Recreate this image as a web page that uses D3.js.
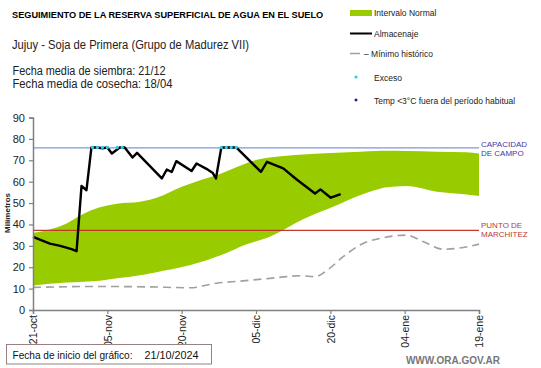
<!DOCTYPE html>
<html><head><meta charset="utf-8">
<script src="https://cdn.jsdelivr.net/npm/d3@7"></script>
<style>
body{margin:0;background:#fff;}
text{font-family:"Liberation Sans",Arial,sans-serif;}
</style></head>
<body><svg id="c" width="541" height="368"></svg>
<script>
// ---- data (day offset from start date) ----
const startDate = "2024-10-21";
const tickDays = [0, 15, 30, 45, 60, 75, 90];
const tickLabels = ["21-oct", "05-nov", "20-nov", "05-dic", "20-dic", "04-ene", "19-ene"];
const yTicks = [0,10,20,30,40,50,60,70,80,90];

const bandDays  = [0, 6.8, 10.2, 13.5, 16.9, 21.6, 23.6, 26.3, 29.7, 30.3, 33.7, 37, 40.4, 41.8, 44.4, 47.8, 54.5, 61.3, 66, 69.3, 71, 75.4, 81.5, 87.5, 90];
const bandUpper = [36, 40.5, 45, 48, 49.7, 50.6, 51.5, 53.7, 57.3, 57.8, 60.7, 63, 66.2, 67.4, 69.8, 71.3, 72.7, 73.5, 74, 74.3, 74.4, 74.3, 74, 73.8, 73.2];
const bandLower = [11.4, 12.8, 13.2, 13.7, 14.8, 16.3, 17.1, 18.4, 19.9, 20.2, 22.3, 24.9, 28, 29.6, 31.7, 34.3, 42.4, 49, 53.7, 56.2, 57.3, 58, 55.3, 54, 53.3];

const almDays = [0, 3.4, 5.5, 7.8, 8.8, 9.8, 10.8, 11.8, 13, 14, 15, 15.9, 17.5, 18.5, 20.1, 21, 26, 27, 28, 28.9, 32, 33, 35, 36.3, 36.9, 38, 39, 40, 41, 46, 47.2, 50.5, 53.2, 56.9, 58, 60.1, 62.1];
const almVals = [34.2, 31, 30, 28.5, 27.5, 58, 56, 76, 76, 75.6, 76, 73.2, 76, 76, 71.3, 73.5, 61.5, 65.7, 64.5, 69.6, 65, 68.5, 66, 64, 61.5, 76, 76, 76, 76, 64.6, 69.3, 66.2, 61, 54.5, 56.4, 52.5, 54.2];

const minDays = [0, 13.5, 23.6, 31.7, 37, 41.8, 47.8, 51.2, 53.9, 56.9, 59.6, 62.6, 66, 70.7, 75.4, 78.8, 82.8, 85.5, 90];
const minVals = [10.6, 11, 10.8, 10.4, 12.5, 13.5, 14.8, 15.6, 16, 15.6, 19, 24.9, 30.4, 33.8, 35, 31.9, 28.4, 28.8, 30.8];

const excesoDays = [12, 13, 14, 15, 17, 18, 38, 39, 40, 41];
const excesoVals = [76, 76, 76, 76, 76, 76, 76, 76, 76, 76];

const capacidadCampo = 75.8;
const puntoMarchitez = 37.2;

// ---- drawing ----
const svg = d3.select("#c");
const t0 = d3.timeParse("%Y-%m-%d")(startDate);
const dt = d => d3.timeHour.offset(t0, Math.round(d * 24));
const x = d3.scaleTime().domain([dt(0), dt(90)]).range([33, 479]);
const y = d3.scaleLinear().domain([0, 90]).range([310, 117.5]);

// band
const band = bandDays.map((d, i) => ({d, lo: bandLower[i], hi: bandUpper[i]}));
svg.append("path").datum(band)
  .attr("d", d3.area().x(p => x(dt(p.d))).y0(p => y(p.lo)).y1(p => y(p.hi)).curve(d3.curveMonotoneX))
  .attr("fill", "#99cc00");

// reference lines
svg.append("line").attr("x1", x(dt(0))).attr("x2", x(dt(90)))
  .attr("y1", y(capacidadCampo)).attr("y2", y(capacidadCampo))
  .attr("stroke", "#7b9ad6").attr("stroke-width", 1.2);
svg.append("line").attr("x1", x(dt(0))).attr("x2", x(dt(90)))
  .attr("y1", y(puntoMarchitez)).attr("y2", y(puntoMarchitez))
  .attr("stroke", "#c0392b").attr("stroke-width", 1.2);

// minimo historico
svg.append("path").datum(minDays.map((d, i) => [d, minVals[i]]))
  .attr("d", d3.line().x(p => x(dt(p[0]))).y(p => y(p[1])).curve(d3.curveMonotoneX))
  .attr("fill", "none").attr("stroke", "#a0a0a0").attr("stroke-width", 1.6)
  .attr("stroke-dasharray", "8,5");

// almacenaje
svg.append("path").datum(almDays.map((d, i) => [d, almVals[i]]))
  .attr("d", d3.line().x(p => x(dt(p[0]))).y(p => y(p[1])))
  .attr("fill", "none").attr("stroke", "#000").attr("stroke-width", 2.4)
  .attr("stroke-linejoin", "round");

// exceso
svg.selectAll(".exc").data(excesoDays.map((d, i) => [d, excesoVals[i]])).enter()
  .append("circle").attr("cx", p => x(dt(p[0]))).attr("cy", p => y(p[1]))
  .attr("r", 1.6).attr("fill", "#33ccee");

// axes
const yAx = svg.append("g").attr("transform", "translate(33,0)")
  .call(d3.axisLeft(y).tickValues(yTicks).tickSize(4).tickPadding(4));
const xAx = svg.append("g").attr("transform", "translate(0,310)")
  .call(d3.axisBottom(x).tickValues(tickDays.map(dt)).tickSize(4)
    .tickFormat((d, i) => tickLabels[i]));
[yAx, xAx].forEach(g => {
  g.select(".domain").attr("stroke", "#808080").attr("stroke-width", 1.5);
  g.selectAll(".tick line").attr("stroke", "#808080").attr("stroke-width", 1.2);
  g.selectAll("text").attr("font-size", 11).attr("fill", "#222")
    .attr("font-family", "Liberation Sans, Arial, sans-serif");
});
xAx.selectAll(".tick text").attr("transform", "rotate(-90)").attr("font-size", 10.5)
  .attr("text-anchor", "end").attr("x", -5).attr("y", 0).attr("dy", "0.35em");

svg.append("text").attr("transform", "translate(10,213) rotate(-90)")
  .attr("text-anchor", "middle").attr("font-size", 8).attr("font-weight", "bold")
  .attr("fill", "#222").text("Milímetros");

// right labels
const rl = (txt, yy, col) => svg.append("text").attr("x", 481).attr("y", yy)
  .attr("font-size", 8).attr("fill", col).text(txt);
rl("CAPACIDAD", 147, "#3a3aa8"); rl("DE  CAMPO", 156, "#3a3aa8");
rl("PUNTO  DE", 228, "#c0392b"); rl("MARCHITEZ", 237, "#c0392b");

// titles
svg.append("text").attr("x", 12).attr("y", 18).attr("font-size", 9.2).attr("font-weight", "bold")
  .attr("fill", "#000").text("SEGUIMIENTO DE LA RESERVA  SUPERFICIAL DE AGUA EN EL SUELO");
svg.append("text").attr("x", 12).attr("y", 49).attr("font-size", 12.3).attr("fill", "#222")
  .attr("textLength", 237).attr("lengthAdjust", "spacingAndGlyphs")
  .text("Jujuy - Soja de Primera (Grupo de Madurez VII)");
svg.append("text").attr("x", 12.5).attr("y", 75).attr("font-size", 12.3).attr("fill", "#222")
  .attr("textLength", 153).attr("lengthAdjust", "spacingAndGlyphs")
  .text("Fecha media de siembra: 21/12");
svg.append("text").attr("x", 12.5).attr("y", 88).attr("font-size", 12.3).attr("fill", "#222")
  .attr("textLength", 160).attr("lengthAdjust", "spacingAndGlyphs")
  .text("Fecha media de cosecha: 18/04");

// legend
const lg = svg.append("g");
lg.append("rect").attr("x", 350).attr("y", 10).attr("width", 22).attr("height", 6).attr("fill", "#99cc00");
lg.append("line").attr("x1", 350).attr("x2", 372).attr("y1", 33.5).attr("y2", 33.5).attr("stroke", "#000").attr("stroke-width", 2);
lg.append("line").attr("x1", 350).attr("x2", 360).attr("y1", 53.5).attr("y2", 53.5).attr("stroke", "#a0a0a0").attr("stroke-width", 1.5);
lg.append("circle").attr("cx", 356).attr("cy", 77).attr("r", 1.6).attr("fill", "#33ccee");
lg.append("path").attr("d", d3.symbol(d3.symbolSquare, 7)()).attr("transform", "translate(356,100) rotate(45)").attr("fill", "#1a1aa0");
const legTexts = ["Intervalo Normal", "Almacenaje", "– Mínimo histórico", "Exceso", "Temp <3°C fuera del período habitual"];
const legY = [16, 37, 57, 81, 104];
const legX = [374, 374, 364, 374, 374];
legTexts.forEach((t, i) => lg.append("text").attr("x", legX[i]).attr("y", legY[i])
  .attr("font-size", 8.5).attr("fill", "#222").text(t));

// bottom box
svg.append("rect").attr("x", 6.5).attr("y", 344.5).attr("width", 205).attr("height", 19.5)
  .attr("fill", "#fff").attr("stroke", "#9a8080").attr("stroke-width", 1);
svg.append("text").attr("x", 12.5).attr("y", 359).attr("font-size", 11.5).attr("fill", "#111")
  .attr("font-family", "Lato, sans-serif").attr("textLength", 120).attr("lengthAdjust", "spacingAndGlyphs")
  .text("Fecha de inicio del gráfico:");
svg.append("text").attr("x", 144.5).attr("y", 359).attr("font-size", 11.5).attr("fill", "#111")
  .attr("font-family", "Lato, sans-serif").attr("textLength", 54).attr("lengthAdjust", "spacingAndGlyphs")
  .text("21/10/2024");
svg.append("text").attr("x", 500).attr("y", 364).attr("text-anchor", "end").attr("font-size", 10)
  .attr("font-weight", "bold").attr("fill", "#777").text("WWW.ORA.GOV.AR");
</script></body></html>
